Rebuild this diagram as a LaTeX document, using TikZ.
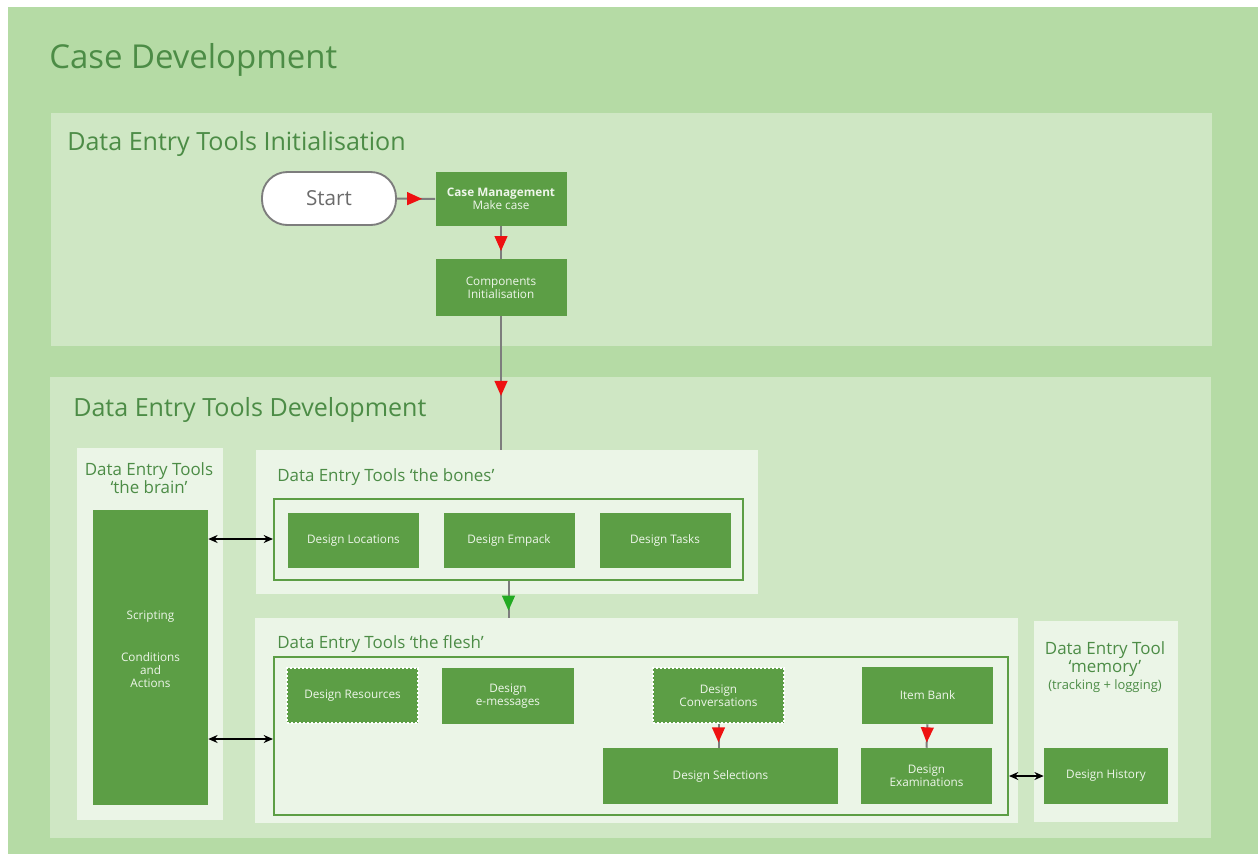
\documentclass[tikz,border=0pt]{standalone}
\usepackage{fontspec}
\setmainfont{Open Sans}
\usetikzlibrary{arrows.meta,decorations.markings}
\definecolor{outerc}{HTML}{B5DBA5}
\definecolor{panelc}{HTML}{CFE7C4}
\definecolor{subc}{HTML}{EBF5E7}
\definecolor{boxc}{HTML}{5C9E45}
\definecolor{boxtext}{HTML}{EEF6EA}
\definecolor{titlec}{HTML}{4C8C46}
\definecolor{linec}{HTML}{7D7D7D}
\definecolor{arrred}{HTML}{EE1111}
\definecolor{arrgreen}{HTML}{22AA22}
\definecolor{startc}{HTML}{6B6B6B}
\tikzset{
  sz/.style 2 args={minimum width=#1*0.75pt, minimum height=#2*0.75pt},
  panel/.style={fill=panelc, draw=none, inner sep=0pt},
  subpanel/.style={fill=subc, draw=none, inner sep=0pt},
  outline/.style={draw=boxc, line width=1.5pt, fill=none, inner sep=0pt},
  gbox/.style={fill=boxc, draw=none, text=boxtext, inner sep=0pt, align=center,
    font=\fontsize{8.8}{10.5}\selectfont},
  stamp/.style={gbox, draw=white, line width=1.8pt, dash pattern=on 1.5pt off 1.5pt},
  bigtitle/.style={text=titlec, anchor=base west, inner sep=0pt, font=\fontsize{24.7}{29}\selectfont},
  sectitle/.style={text=titlec, anchor=base west, inner sep=0pt, font=\fontsize{18.8}{22}\selectfont},
  subtitle/.style={text=titlec, inner sep=0pt, align=center, font=\fontsize{12.7}{15}\selectfont},
  smalltitle/.style={text=titlec, inner sep=0pt, font=\fontsize{9.7}{11}\selectfont},
  startnode/.style={fill=white, draw=linec, line width=1.4pt, rounded corners=19pt,
    text=startc, inner sep=0pt, font=\fontsize{15.5}{18}\selectfont},
  flow/.style={draw=linec, line width=1.5pt},
  redmark/.style={decoration={markings, mark=at position #1 with {\fill[arrred] (5.6pt,0pt) -- (-5.6pt,5pt) -- (-5.6pt,-5pt) -- cycle;}}, postaction=decorate},
  greenmark/.style={decoration={markings, mark=at position #1 with {\fill[arrgreen] (5.6pt,0pt) -- (-5.6pt,5pt) -- (-5.6pt,-5pt) -- cycle;}}, postaction=decorate},
  both/.style={draw=black, line width=1.1pt, {Stealth[length=7pt,width=6pt]}-{Stealth[length=7pt,width=6pt]}},
}
\begin{document}
\begin{tikzpicture}[x=0.75pt,y=-0.75pt]
\fill[white] (0,0) rectangle (1258,854);
\useasboundingbox (0,0) rectangle (1258,854);
\fill[outerc] (8,7) rectangle (1258,854);

% panels
\node[panel, sz={1161}{233}] (initp) at (631,229.5) {};
\node[panel, sz={1161}{461}] (devp) at (630.5,607.5) {};
\node[subpanel, sz={146}{372}] (brainp) at (150,634) {};
\node[subpanel, sz={502}{144}] (bonesp) at (507,522) {};
\node[subpanel, sz={763}{205}] (fleshp) at (636.5,720.5) {};
\node[subpanel, sz={144}{201}] (memp) at (1106,721.5) {};
\node[outline, sz={469}{81}] (boneso) at (508.5,539.5) {};
\node[outline, sz={734}{158}] (flesho) at (641,736) {};

% titles
\node[bigtitle] (t0) at (49,68) {Case Development};
\node[sectitle] (t1) at (67,150) {Data Entry Tools Initialisation};
\node[sectitle] (t2) at (73,416) {Data Entry Tools Development};
\node[subtitle] (t3) at (149,478) {Data Entry Tools\\[-2pt]‘the brain’};
\node[subtitle, anchor=west] (t4) at (277,477) {Data Entry Tools ‘the bones’};
\node[subtitle, anchor=west] (t5) at (277,644) {Data Entry Tools ‘the flesh’};
\node[subtitle] (t6) at (1105,659) {Data Entry Tool\\[-2pt]‘memory’};
\node[smalltitle] (t7) at (1105,686) {(tracking + logging)};

% boxes
\node[startnode, sz={134}{53}] (start) at (329,198.5) {Start};
\node[gbox, sz={131}{54}] (case) at (501,199) {\textbf{Case Management}\\[-1pt]Make case};
\node[gbox, sz={131}{57}] (comp) at (501,287.5) {Components\\[-1pt]Initialisation};
\node[gbox, sz={115}{295}] (brain) at (150.5,657.5) {};
\node[text=boxtext, inner sep=0pt, font=\fontsize{8.8}{10.5}\selectfont] (scr) at (150.5,617) {Scripting};
\node[text=boxtext, inner sep=0pt, align=center, font=\fontsize{8.8}{10}\selectfont] (cond) at (150.5,670) {Conditions\\and\\Actions};
\node[gbox, sz={131}{55}] (loc) at (353.5,540.5) {Design Locations};
\node[gbox, sz={131}{55}] (emp) at (509,540.5) {Design Empack};
\node[gbox, sz={131}{55}] (task) at (665,540.5) {Design Tasks};
\node[stamp, sz={131}{55}] (res) at (352.5,695.5) {Design Resources};
\node[gbox, sz={132}{56}] (emsg) at (508,696) {Design\\[-1pt]e-messages};
\node[stamp, sz={131}{55}] (conv) at (718.5,695.5) {Design\\[-1pt]Conversations};
\node[gbox, sz={131}{57}] (item) at (927.5,695.5) {Item Bank};
\node[gbox, sz={235}{56}] (sel) at (720.5,776) {Design Selections};
\node[gbox, sz={131}{56}] (exam) at (926.5,776) {Design\\[-1pt]Examinations};
\node[gbox, sz={124}{56}] (hist) at (1106,776) {Design History};

% connectors
\draw[flow, redmark=0.46] (start.east) -- (case.west);
\draw[flow, redmark=0.53] (case.south) -- (comp.north);
\draw[flow, redmark=0.54] (comp.south) -- (comp.south |- bonesp.north);
\draw[flow, greenmark=0.6] (boneso.south) -- (boneso.south |- fleshp.north);
\draw[flow, redmark=0.45] (conv.south) -- (conv.south |- sel.north);
\draw[flow, redmark=0.45] (item.south) -- (exam.north);
\draw[both] (brain.east |- 0,539) -- (boneso.west |- 0,539);
\draw[both] (brain.east |- 0,739) -- (flesho.west |- 0,739);
\draw[both] (flesho.east |- hist.west) -- (hist.west);
\end{tikzpicture}
\end{document}
